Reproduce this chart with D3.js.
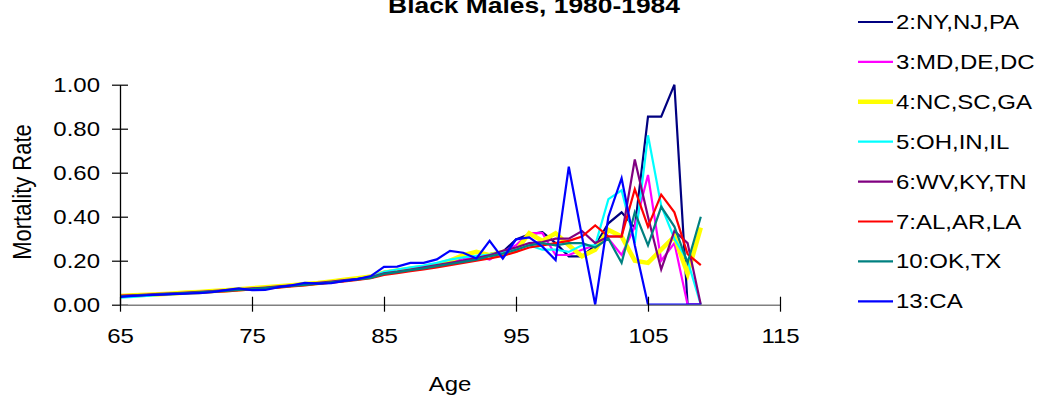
<!DOCTYPE html>
<html>
<head>
<meta charset="utf-8">
<script src="https://cdn.jsdelivr.net/npm/d3@7"></script>
<style>
  html, body { margin: 0; padding: 0; background: #fff; }
  svg { display: block; }
  text { font-family: "Liberation Sans", Arial, sans-serif; fill: #000; }
</style>
</head>
<body>
<svg id="chart" width="1050" height="403"></svg>
<script>
// Ages 65..109
const ages = d3.range(65, 110);

const regionNames = ["2:NY,NJ,PA", "3:MD,DE,DC", "4:NC,SC,GA", "5:OH,IN,IL",
                     "6:WV,KY,TN", "7:AL,AR,LA", "10:OK,TX", "13:CA"];
const regionColors = ["#000080", "#FF00FF", "#FFFF00", "#00FFFF",
                      "#800080", "#FF0000", "#008080", "#0000FF"];

// Mortality rate by single year of age, one array per region
const ny = [.042,.044,.046,.049,.051,.054,.057,.060,.064,.067,.071,.075,.080,.085,.091,.096,.102,.109,.117,.124,
            .148,.155,.165,.172,.180,.195,.205,.215,.230,.240,
            .297,.32,.33,.28,.22,.22,.27,.37,.42,.35,.855,.855,1.00,0,0];
const md = [.043,.045,.047,.050,.053,.055,.058,.061,.065,.069,.073,.077,.082,.087,.092,.098,.104,.112,.120,.128,
            .150,.158,.165,.175,.185,.193,.205,.222,.205,.240,
            .27,.325,.325,.226,.226,.25,.27,.30,.226,.355,.59,.20,.28,0,0];
const nc = [.040,.043,.045,.048,.051,.055,.058,.062,.066,.070,.075,.079,.084,.089,.094,.099,.106,.113,.120,.128,
            .145,.155,.163,.172,.182,.200,.225,.240,.225,.240,
            .245,.325,.29,.325,.27,.22,.25,.34,.31,.20,.19,.25,.31,.14,.35];
const oh = [.032,.036,.040,.044,.048,.052,.056,.060,.064,.068,.072,.076,.081,.086,.091,.097,.103,.110,.118,.126,
            .150,.160,.170,.178,.190,.205,.215,.222,.228,.240,
            .25,.27,.25,.25,.24,.27,.27,.48,.52,.28,.77,.45,.30,.20,0];
const wv = [.040,.043,.046,.049,.052,.055,.058,.062,.066,.070,.074,.078,.083,.088,.093,.099,.105,.112,.118,.126,
            .143,.150,.160,.170,.180,.190,.200,.212,.225,.245,
            .26,.28,.285,.30,.30,.335,.28,.31,.31,.66,.40,.16,.335,.28,0];
const al = [.040,.042,.044,.046,.049,.052,.055,.058,.061,.065,.069,.073,.078,.083,.088,.094,.100,.106,.113,.121,
            .135,.143,.152,.160,.170,.180,.190,.200,.210,.222,
            .24,.26,.27,.28,.29,.31,.36,.31,.31,.525,.355,.50,.42,.23,.18];
const ok = [.038,.041,.044,.047,.050,.053,.056,.059,.063,.067,.071,.075,.080,.085,.090,.096,.102,.108,.115,.122,
            .140,.148,.157,.165,.175,.185,.195,.205,.220,.232,
            .25,.27,.28,.27,.28,.28,.26,.30,.19,.42,.27,.445,.355,.19,.40];
const ca = [.036,.040,.043,.046,.048,.050,.053,.057,.066,.074,.066,.067,.080,.088,.099,.096,.098,.108,.116,.130,
            .172,.173,.190,.190,.206,.245,.236,.210,.290,.210,
            .297,.306,.264,.203,.627,.31,0,.40,.575,.27,0,0,0,0,0];

const seriesValues = [ny, md, nc, oh, wv, al, ok, ca];

const xTicks = [65, 75, 85, 95, 105, 115];
const yTicks = [0, 0.2, 0.4, 0.6, 0.8, 1.0];

const titleText = "Black Males, 1980-1984";
const xLabel = "Age";
const yLabel = "Mortality Rate";

// ---- drawing ----
const svg = d3.select("#chart");
const SX = 1.2; // horizontal glyph stretch used for all text

const x = d3.scaleLinear().domain([65, 115]).range([120, 780]);
const y = d3.scaleLinear().domain([0, 1]).range([304.7, 84.7]);

// series lines
const line = d3.line().x((d, i) => x(ages[i])).y(d => y(d));
const series = regionNames.map((name, k) => ({ name, color: regionColors[k], values: seriesValues[k] }));

svg.append("g").selectAll("path").data(series).join("path")
  .attr("d", d => line(d.values))
  .attr("fill", "none")
  .attr("stroke", d => d.color)
  .attr("stroke-width", d => d.color === "#FFFF00" ? 4.5 : 2.2);

// y axis
const gy = svg.append("g").attr("transform", `translate(${x(65)},0)`)
  .call(d3.axisLeft(y).tickValues(yTicks).tickFormat(d3.format(".2f")).tickSizeOuter(0));
gy.select(".domain").attr("stroke", "#000").attr("stroke-width", 1.3);
gy.selectAll(".tick line").attr("x1", 8).attr("x2", -8).attr("stroke", "#000").attr("stroke-width", 1.2);
gy.selectAll(".tick text")
  .attr("x", null).attr("dy", "0.36em")
  .attr("text-anchor", "end")
  .attr("transform", `translate(-20,0) scale(${SX},1)`)
  .style("font-size", "20px").style("font-family", "'Liberation Sans', Arial, sans-serif");

// x axis
const gx = svg.append("g").attr("transform", `translate(0,${y(0)})`)
  .call(d3.axisBottom(x).tickValues(xTicks).tickFormat(d3.format("d")).tickSizeOuter(0));
gx.select(".domain").attr("stroke", "#808080").attr("stroke-width", 1.6);
gx.selectAll(".tick line").attr("y1", -8).attr("y2", 7).attr("stroke", "#000").attr("stroke-width", 1.2);
gx.selectAll(".tick text")
  .attr("y", null).attr("dy", null)
  .attr("text-anchor", "middle")
  .attr("transform", `translate(0,38) scale(${SX},1)`)
  .style("font-size", "20px").style("font-family", "'Liberation Sans', Arial, sans-serif");

// title
svg.append("text")
  .attr("transform", `translate(534,13) scale(${SX},1)`)
  .attr("text-anchor", "middle")
  .style("font-size", "22px").style("font-weight", "bold")
  .text(titleText);

// axis titles
svg.append("text")
  .attr("transform", `translate(450,391) scale(${SX},1)`)
  .attr("text-anchor", "middle")
  .style("font-size", "20px")
  .text(xLabel);

svg.append("text")
  .attr("transform", `translate(31,192) rotate(-90) scale(1,1.15)`)
  .attr("text-anchor", "middle")
  .style("font-size", "22px")
  .text(yLabel);

// legend
const legend = svg.append("g").selectAll("g").data(series).join("g")
  .attr("transform", (d, i) => `translate(858,${22 + i * 39.9})`);
legend.append("line")
  .attr("x1", 0).attr("x2", 35).attr("y1", 0).attr("y2", 0)
  .attr("stroke", d => d.color)
  .attr("stroke-width", d => d.color === "#FFFF00" ? 4.5 : 2.2);
legend.append("text")
  .attr("transform", `translate(38,7) scale(${SX},1)`)
  .style("font-size", "20px")
  .text(d => d.name);
</script>
</body>
</html>
